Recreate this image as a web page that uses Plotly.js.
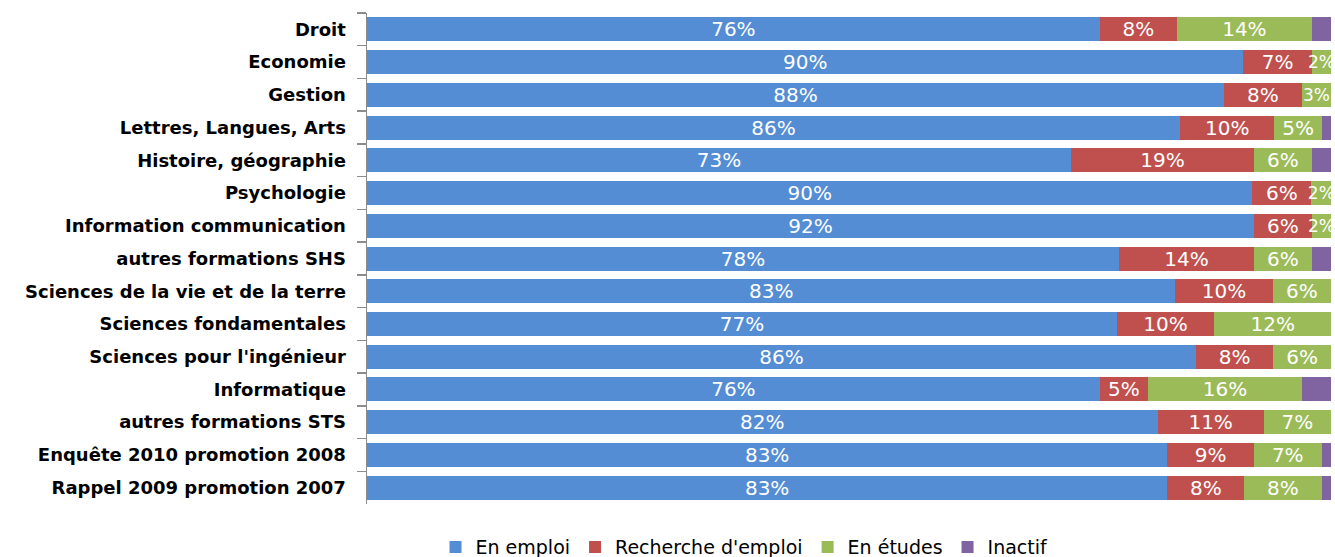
<!DOCTYPE html>
<html>
<head>
<meta charset="utf-8">
<script src="https://cdn.plot.ly/plotly-3.0.1.min.js"></script>
<style>
html, body { margin:0; padding:0; background:#fff; overflow:hidden; }
#chart { width:1335px; height:557px; }
</style>
</head>
<body>
<div id="chart"></div>
<script>
// Categories (top to bottom)
const categories = [
  "Droit",
  "Economie",
  "Gestion",
  "Lettres, Langues, Arts",
  "Histoire, géographie",
  "Psychologie",
  "Information communication",
  "autres formations SHS",
  "Sciences de la vie et de la terre",
  "Sciences fondamentales",
  "Sciences pour l'ingénieur",
  "Informatique",
  "autres formations STS",
  "Enquête 2010 promotion 2008",
  "Rappel 2009 promotion 2007"
];
// Series values (%)
const enEmploi        = [76, 90, 88, 86, 73, 90, 92, 78, 83, 77, 86, 76, 82, 83, 83];
const rechercheEmploi = [8, 7, 8, 10, 19, 6, 6, 14, 10, 10, 8, 5, 11, 9, 8];
const enEtudes        = [14, 2, 3, 5, 6, 2, 2, 6, 6, 12, 6, 16, 7, 7, 8];
const inactif         = [2, 0, 0, 1, 2, 0, 0, 2, 0, 0, 0, 3, 0, 1, 1];

const seriesNames = ["En emploi", "Recherche d'emploi", "En études", "Inactif"];
const seriesColors = ["#548DD4", "#C0504D", "#9BBB59", "#8064A2"];
const seriesValues = [enEmploi, rechercheEmploi, enEtudes, inactif];

const traces = seriesValues.map((vals, i) => ({
  type: 'bar',
  orientation: 'h',
  name: seriesNames[i],
  y: categories,
  x: vals,
  marker: { color: seriesColors[i], line: { width: 0 } },
  text: i < 3 ? vals.map(v => v + '%') : vals.map(() => ''),
  textposition: i < 3 ? 'inside' : 'none',
  insidetextanchor: 'middle',
  textangle: 0,
  constraintext: 'none',
  textfont: {
    family: 'DejaVu Sans',
    size: vals.map(v => (v <= 3 ? 17 : 20)),
    color: '#ffffff'
  },
  hoverinfo: 'name+x+y'
}));

const layout = {
  width: 1335,
  height: 557,
  margin: { l: 367, r: 0, t: 13, b: 53, autoexpand: false },
  paper_bgcolor: '#ffffff',
  plot_bgcolor: '#ffffff',
  barmode: 'stack',
  barnorm: 'percent',
  bargap: 0.267,
  showlegend: true,
  legend: {
    orientation: 'h',
    x: 0.39, xanchor: 'center',
    y: -0.088, yanchor: 'middle',
    font: { family: 'DejaVu Sans', size: 19, color: '#000000' },
    itemwidth: 30,
    traceorder: 'normal'
  },
  xaxis: {
    range: [0, 100.4],
    showticklabels: false,
    showgrid: false,
    zeroline: false,
    showline: false,
    ticks: '',
    fixedrange: true
  },
  yaxis: {
    type: 'category',
    autorange: 'reversed',
    showline: true,
    linecolor: '#8c8c8c',
    linewidth: 1.5,
    ticks: 'outside',
    tickson: 'boundaries',
    ticklen: 9,
    tickcolor: '#8c8c8c',
    tickwidth: 1.5,
    ticklabelstandoff: 16,
    showgrid: false,
    tickfont: { family: 'DejaVu Sans', size: 18, color: '#000000', weight: 'bold' },
    fixedrange: true
  }
};

Plotly.newPlot('chart', traces, layout, { displayModeBar: false, staticPlot: true });
</script>
</body>
</html>
